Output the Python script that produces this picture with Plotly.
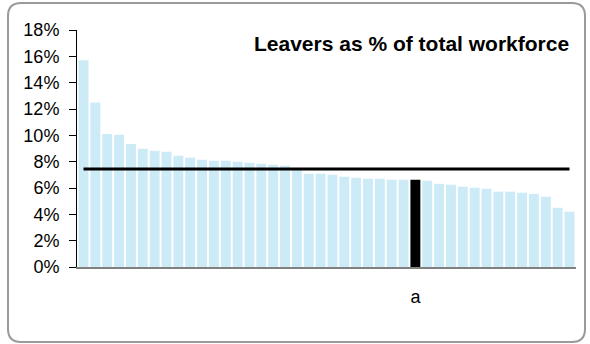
import plotly.graph_objects as go

# leavers as % of total workforce, one bar per organisation (sorted)
leaver_rates = [15.7, 12.5, 10.1, 10.05, 9.35, 8.98, 8.83, 8.75, 8.45, 8.3,
                8.15, 8.07, 8.07, 8.0, 7.92, 7.84, 7.77, 7.69, 7.45, 7.08,
                7.08, 7.01, 6.86, 6.78, 6.7, 6.7, 6.63, 6.63, 6.63, 6.55,
                6.32, 6.25, 6.1, 6.02, 5.94, 5.72, 5.72, 5.64, 5.56, 5.34,
                4.5, 4.2]
highlight_index = 28
highlight_label = "a"
average_rate = 7.45
y_ticks = [0, 2, 4, 6, 8, 10, 12, 14, 16, 18]
y_tick_text = ["0%", "2%", "4%", "6%", "8%", "10%", "12%", "14%", "16%", "18%"]

W, H = 590, 344
L, R, T, B = 77, 14, 30, 77
pw, ph = W - L - R, H - T - B

positions = list(range(len(leaver_rates)))
colours = ["#000000" if i == highlight_index else "#CCEBF7" for i in positions]

fig = go.Figure()
fig.add_trace(go.Bar(x=positions, y=leaver_rates, marker_color=colours,
                     marker_line_width=0, hoverinfo="y"))
fig.add_trace(go.Scatter(x=[positions[0], positions[-1]], y=[average_rate, average_rate],
                         mode="lines", line=dict(color="#000000", width=3)))


def px_x(p):
    return (p - L) / pw


def px_y(p):
    return (H - B - p) / ph


# rounded border round the whole chart
x0, x1, y0, y1, r = 8, 585, 3, 342, 13
path = (f"M {px_x(x0 + r)},{px_y(y0)} L {px_x(x1 - r)},{px_y(y0)} "
        f"Q {px_x(x1)},{px_y(y0)} {px_x(x1)},{px_y(y0 + r)} "
        f"L {px_x(x1)},{px_y(y1 - r)} Q {px_x(x1)},{px_y(y1)} {px_x(x1 - r)},{px_y(y1)} "
        f"L {px_x(x0 + r)},{px_y(y1)} Q {px_x(x0)},{px_y(y1)} {px_x(x0)},{px_y(y1 - r)} "
        f"L {px_x(x0)},{px_y(y0 + r)} Q {px_x(x0)},{px_y(y0)} {px_x(x0 + r)},{px_y(y0)} Z")
fig.add_shape(type="path", path=path, xref="paper", yref="paper",
              line=dict(color="#9A9A9A", width=2), layer="below")

fig.add_annotation(text="<b>Leavers as % of total workforce</b>", xref="paper", yref="paper",
                   x=px_x(571), y=px_y(43), xanchor="right", yanchor="middle",
                   showarrow=False, font=dict(size=21, color="#000000"))

fig.update_layout(
    width=W, height=H, margin=dict(l=L, r=R, t=T, b=B),
    paper_bgcolor="white", plot_bgcolor="white", showlegend=False,
    bargap=0.16,
    font=dict(family="Arial, Liberation Sans", size=18, color="#000000"),
)
fig.update_xaxes(range=[-0.55, len(leaver_rates) - 0.45], tickmode="array",
                 tickvals=[highlight_index], ticktext=[highlight_label],
                 showline=True, linecolor="#808080", linewidth=2, ticks="",
                 ticklabelstandoff=12, showgrid=False, zeroline=False)
fig.update_yaxes(range=[0, 18], tickmode="array", tickvals=y_ticks, ticktext=y_tick_text,
                 showline=True, linecolor="#000000", linewidth=1,
                 ticks="outside", ticklen=7, tickwidth=1, tickcolor="#000000",
                 ticklabelstandoff=6, showgrid=False, zeroline=False)

fig.write_html("out.html", config={"displayModeBar": False},
               post_script="document.body.style.margin='0';")
